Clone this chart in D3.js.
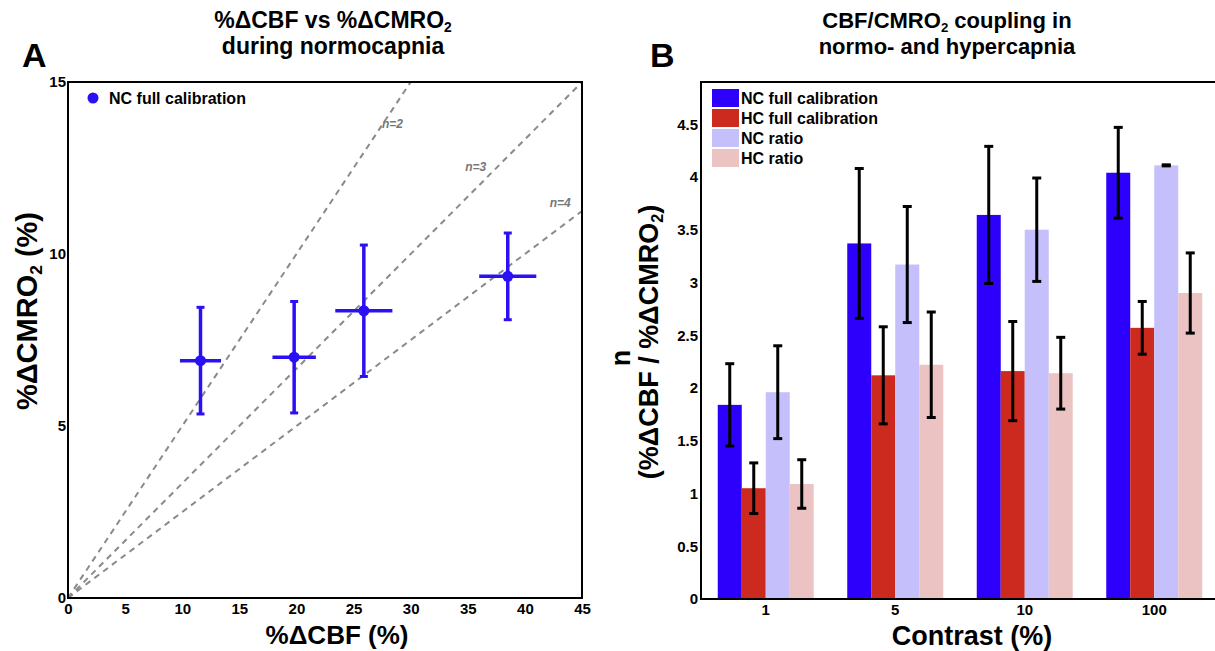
<!DOCTYPE html>
<html>
<head>
<meta charset="utf-8">
<script src="https://cdn.jsdelivr.net/npm/d3@7"></script>
<style>
  body { margin: 0; background: #fff; }
  svg { font-family: "Liberation Sans", Arial, Helvetica, sans-serif; font-weight: bold; }
</style>
</head>
<body>
<svg id="chart" width="1215" height="651"></svg>
<script>
// panel A: %dCBF vs %dCMRO2 (NC full calibration)
const cbf = [11.6, 19.8, 25.9, 38.5];
const cbfErr = [1.8, 1.9, 2.5, 2.5];
const cmro = [6.9, 7.0, 8.35, 9.35];
const cmroErr = [1.55, 1.62, 1.91, 1.26];
const nLines = [2, 3, 4];
const nLabelPos = [[28.4, 13.66], [35.7, 12.42], [43.1, 11.37]];
const aTicksX = [0, 5, 10, 15, 20, 25, 30, 35, 40, 45];
const aTicksY = [0, 5, 10, 15];

// panel B: coupling ratio n per contrast
const contrasts = ['1', '5', '10', '100'];
const seriesNames = ['NC full calibration', 'HC full calibration', 'NC ratio', 'HC ratio'];
const ncFull = [1.84, 3.37, 3.64, 4.04];
const ncFullErr = [0.39, 0.71, 0.65, 0.43];
const hcFull = [1.05, 2.12, 2.16, 2.57];
const hcFullErr = [0.24, 0.46, 0.47, 0.25];
const ncRatio = [1.96, 3.17, 3.50, 4.11];
const ncRatioErr = [0.44, 0.55, 0.49, 0.005];
const hcRatio = [1.09, 2.22, 2.14, 2.90];
const hcRatioErr = [0.23, 0.50, 0.34, 0.38];
const bTicksY = [0, 0.5, 1, 1.5, 2, 2.5, 3, 3.5, 4, 4.5];

const colors = ['#2d00fb', '#cc2a1e', '#c5c0fb', '#ebc3c3'];
const tickFont = 15;

const svg = d3.select('#chart');

// text with a subscript part: parts = [[text, isSub], ...]
function subText(sel, parts) {
  parts.forEach(p => {
    const t = sel.append('tspan').text(p[0]);
    if (p[1]) t.attr('baseline-shift', '-30%').attr('font-size', '0.6em');
  });
}

function styleTicks(g) {
  g.select('.domain').remove();
  g.selectAll('text').attr('font-size', tickFont).attr('font-weight', 'bold')
    .attr('font-family', '"Liberation Sans", Arial, sans-serif').attr('fill', '#000');
}

drawPanelA();
drawPanelB();

function drawPanelA() {
  const margin = { left: 68, right: 582, top: 82, bottom: 598 };
  const x = d3.scaleLinear().domain([0, 45]).range([margin.left, margin.right]);
  const y = d3.scaleLinear().domain([0, 15]).range([margin.bottom, margin.top]);

  svg.append('defs').append('clipPath').attr('id', 'clipA')
    .append('rect').attr('x', margin.left).attr('y', margin.top)
    .attr('width', margin.right - margin.left).attr('height', margin.bottom - margin.top);

  // dashed n lines
  const g = svg.append('g').attr('clip-path', 'url(#clipA)');
  g.selectAll('.nline')
    .data(nLines)
    .enter()
    .append('line')
    .attr('x1', x(0)).attr('y1', y(0))
    .attr('x2', x(45)).attr('y2', n => y(45 / n))
    .attr('stroke', '#8a8a8a')
    .attr('stroke-width', 2)
    .attr('stroke-dasharray', '6,5');

  svg.selectAll('.nlabel')
    .data(nLines)
    .enter()
    .append('text')
    .attr('x', (n, i) => x(nLabelPos[i][0]))
    .attr('y', (n, i) => y(nLabelPos[i][1]))
    .attr('text-anchor', 'middle')
    .attr('font-size', 12)
    .attr('font-style', 'italic')
    .attr('fill', '#777')
    .text(n => 'n=' + n);

  const pts = cbf.map((v, i) => ({ x: v, y: cmro[i], ex: cbfErr[i], ey: cmroErr[i] }));
  const blue = '#2a10f2';

  // horizontal bars
  svg.selectAll('.hbar')
    .data(pts).enter().append('line')
    .attr('x1', d => x(d.x - d.ex)).attr('x2', d => x(d.x + d.ex))
    .attr('y1', d => y(d.y)).attr('y2', d => y(d.y))
    .attr('stroke', blue).attr('stroke-width', 3.5);
  // vertical bars
  svg.selectAll('.vbar')
    .data(pts).enter().append('line')
    .attr('x1', d => x(d.x)).attr('x2', d => x(d.x))
    .attr('y1', d => y(d.y - d.ey)).attr('y2', d => y(d.y + d.ey))
    .attr('stroke', blue).attr('stroke-width', 3.5);
  // caps
  [-1, 1].forEach(s => {
    svg.selectAll('.cap')
      .data(pts).enter().append('line')
      .attr('x1', d => x(d.x) - 4).attr('x2', d => x(d.x) + 4)
      .attr('y1', d => y(d.y + s * d.ey)).attr('y2', d => y(d.y + s * d.ey))
      .attr('stroke', blue).attr('stroke-width', 3);
  });
  svg.selectAll('.pt')
    .data(pts).enter().append('circle')
    .attr('cx', d => x(d.x)).attr('cy', d => y(d.y))
    .attr('r', 5.5).attr('fill', blue);

  // frame
  svg.append('rect')
    .attr('x', margin.left).attr('y', margin.top)
    .attr('width', margin.right - margin.left).attr('height', margin.bottom - margin.top)
    .attr('fill', 'none').attr('stroke', '#000').attr('stroke-width', 2);

  // ticks
  svg.append('g')
    .attr('transform', `translate(0,${margin.bottom})`)
    .call(d3.axisBottom(x).tickValues(aTicksX).tickSize(0).tickPadding(5))
    .call(styleTicks);

  svg.append('g')
    .attr('transform', `translate(${margin.left},0)`)
    .call(d3.axisLeft(y).tickValues(aTicksY).tickSize(0).tickPadding(2))
    .call(styleTicks);

  // legend
  svg.append('circle').attr('cx', 93).attr('cy', 98).attr('r', 5.5).attr('fill', blue);
  svg.append('text').attr('x', 109).attr('y', 104).attr('font-size', 16).text('NC full calibration');

  // titles
  const t1 = svg.append('text').attr('x', 333).attr('y', 28).attr('text-anchor', 'middle').attr('font-size', 23);
  subText(t1, [['%\u0394CBF vs %\u0394CMRO'], ['2', true]]);
  svg.append('text').attr('x', 333).attr('y', 54).attr('text-anchor', 'middle').attr('font-size', 23)
    .text('during normocapnia');
  svg.append('text').attr('x', 22).attr('y', 67).attr('font-size', 34).text('A');

  svg.append('text').attr('x', 337).attr('y', 644).attr('text-anchor', 'middle').attr('font-size', 26)
    .text('%\u0394CBF (%)');
  const yl = svg.append('text').attr('transform', 'translate(37,311) rotate(-90)')
    .attr('text-anchor', 'middle').attr('font-size', 29);
  subText(yl, [['%\u0394CMRO'], ['2', true], [' (%)']]);
}

function drawPanelB() {
  const margin = { left: 701, right: 1219, top: 82, bottom: 599 };
  const x0 = d3.scaleBand().domain(contrasts).range([margin.left, margin.right]).padding(0);
  const groupW = 96;
  const x1 = d3.scaleBand().domain(seriesNames)
    .range([(x0.bandwidth() - groupW) / 2, (x0.bandwidth() + groupW) / 2]);
  const y = d3.scaleLinear().domain([0, 4.9]).range([margin.bottom, margin.top]);

  const values = [ncFull, hcFull, ncRatio, hcRatio];
  const errs = [ncFullErr, hcFullErr, ncRatioErr, hcRatioErr];
  const data = [];
  contrasts.forEach((c, ci) => {
    seriesNames.forEach((s, si) => {
      data.push({ c, s, si, v: values[si][ci], e: errs[si][ci] });
    });
  });

  svg.selectAll('.bar')
    .data(data).enter().append('rect')
    .attr('x', d => x0(d.c) + x1(d.s))
    .attr('y', d => y(d.v))
    .attr('width', x1.bandwidth())
    .attr('height', d => y(0) - y(d.v))
    .attr('fill', d => colors[d.si]);

  const cx = d => x0(d.c) + x1(d.s) + x1.bandwidth() / 2;
  svg.selectAll('.err')
    .data(data).enter().append('line')
    .attr('x1', cx).attr('x2', cx)
    .attr('y1', d => y(d.v - d.e)).attr('y2', d => y(d.v + d.e))
    .attr('stroke', '#000').attr('stroke-width', 3);
  [-1, 1].forEach(s => {
    svg.selectAll('.ecap')
      .data(data).enter().append('line')
      .attr('x1', d => cx(d) - 4.5).attr('x2', d => cx(d) + 4.5)
      .attr('y1', d => y(d.v + s * d.e)).attr('y2', d => y(d.v + s * d.e))
      .attr('stroke', '#000').attr('stroke-width', 3);
  });

  svg.append('rect')
    .attr('x', margin.left).attr('y', margin.top)
    .attr('width', margin.right - margin.left).attr('height', margin.bottom - margin.top)
    .attr('fill', 'none').attr('stroke', '#000').attr('stroke-width', 2);

  svg.append('g')
    .attr('transform', `translate(0,${margin.bottom})`)
    .call(d3.axisBottom(x0).tickSize(0).tickPadding(5))
    .call(styleTicks);

  svg.append('g')
    .attr('transform', `translate(${margin.left},0)`)
    .call(d3.axisLeft(y).tickValues(bTicksY).tickFormat(d3.format('')).tickSize(0).tickPadding(3))
    .call(styleTicks);

  // legend
  const lg = svg.append('g');
  seriesNames.forEach((s, i) => {
    lg.append('rect').attr('x', 712).attr('y', 89 + i * 20).attr('width', 27).attr('height', 18)
      .attr('fill', colors[i]);
    lg.append('text').attr('x', 741).attr('y', 104 + i * 20).attr('font-size', 16).text(s);
  });

  const t1 = svg.append('text').attr('x', 947).attr('y', 28).attr('text-anchor', 'middle').attr('font-size', 22);
  subText(t1, [['CBF/CMRO'], ['2', true], [' coupling in']]);
  svg.append('text').attr('x', 947).attr('y', 54).attr('text-anchor', 'middle').attr('font-size', 22)
    .text('normo- and hypercapnia');
  svg.append('text').attr('x', 650).attr('y', 67).attr('font-size', 34).text('B');

  svg.append('text').attr('x', 972).attr('y', 645).attr('text-anchor', 'middle').attr('font-size', 27)
    .text('Contrast (%)');
  svg.append('text').attr('transform', 'translate(630,358) rotate(-90)')
    .attr('text-anchor', 'middle').attr('font-size', 27).text('n');
  const yl = svg.append('text').attr('transform', 'translate(658,342) rotate(-90)')
    .attr('text-anchor', 'middle').attr('font-size', 27);
  subText(yl, [['(%\u0394CBF / %\u0394CMRO'], ['2', true], [')']]);
}
</script>
</body>
</html>
